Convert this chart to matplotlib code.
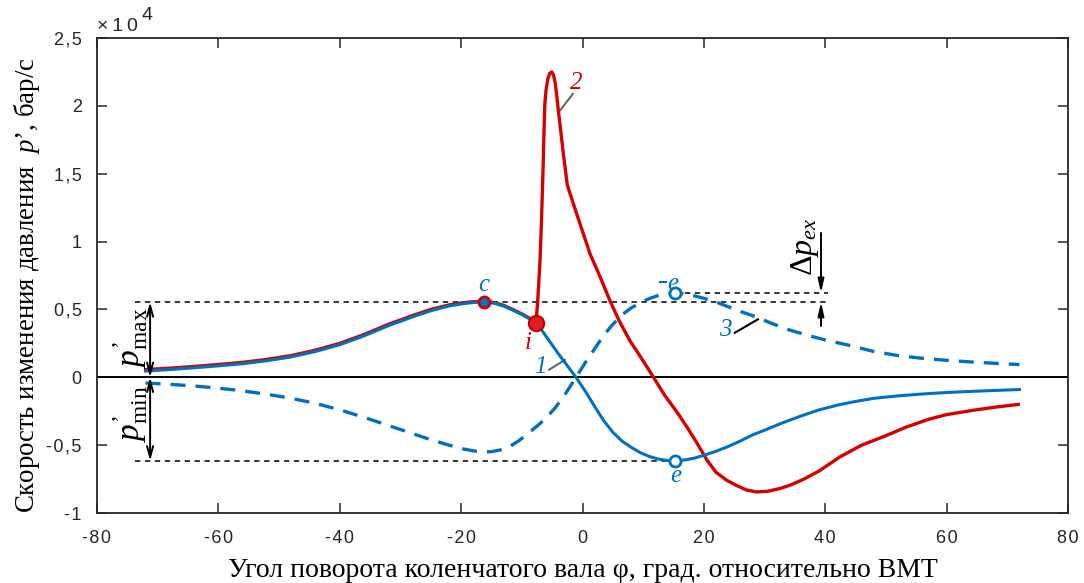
import numpy as np
import matplotlib
matplotlib.use('Agg')
import matplotlib.pyplot as plt
from matplotlib.ticker import FuncFormatter

# ---------------- data (crank angle, deg; dp/dphi in units of 1e4 bar/s) ----------------
# curve 1: motored / compression (solid blue)
x1 = [-72, -68, -64, -60, -56, -52, -48, -44, -40, -36, -32, -28, -25, -22, -20, -18,
      -16.3, -14.5, -13, -11.5, -10, -8.5, -7, -5.5, -4, -2.5, -1, 0.5, 2, 3.5, 5,
      6.5, 8, 9.5, 11, 12.5, 14, 15.3, 17, 18.5, 20, 22, 24, 26, 28, 30, 33, 36, 39,
      42, 45, 48, 52, 56, 60, 64, 68, 72]
y1 = [0.046, 0.057, 0.070, 0.084, 0.100, 0.122, 0.150, 0.190, 0.240, 0.305, 0.380,
      0.445, 0.490, 0.525, 0.540, 0.551, 0.555, 0.545, 0.525, 0.495, 0.462, 0.425,
      0.365, 0.270, 0.175, 0.085, -0.005, -0.105, -0.215, -0.320, -0.405, -0.470,
      -0.515, -0.555, -0.583, -0.603, -0.613, -0.616, -0.608, -0.595, -0.575, -0.545,
      -0.510, -0.470, -0.425, -0.390, -0.335, -0.285, -0.240, -0.205, -0.178, -0.155,
      -0.137, -0.123, -0.112, -0.104, -0.097, -0.090]

# curve 2: firing (red)
x2 = [-72, -68, -64, -60, -56, -52, -48, -44, -40, -36, -32, -28, -25, -22, -20, -18,
      -16.3, -14.5, -13, -11.5, -10, -8.5, -7.66, -7.4, -7.2, -7.0, -6.8, -6.6, -6.46,
      -6.35, -6.2, -6.0, -5.7, -5.4, -5.07, -4.8, -4.5, -4.25, -3.99, -3.6, -3.16,
      -2.8, -2.5, -1, 1.24, 3, 4.5, 6, 7.8, 9.5, 11.7, 13.5, 15.7, 17.2, 18.8, 20.5,
      22, 23.8, 25.5, 27, 28.7, 30.5, 32.5, 34.2, 36.5, 39, 42.4, 46, 50, 53.4, 57,
      60, 64.4, 68, 71.8]
y2 = [0.057, 0.067, 0.080, 0.094, 0.110, 0.132, 0.160, 0.200, 0.250, 0.315, 0.390,
      0.455, 0.500, 0.533, 0.548, 0.557, 0.560, 0.550, 0.530, 0.500, 0.467, 0.430,
      0.400, 0.550, 0.700, 0.860, 1.100, 1.380, 1.600, 1.800, 2.020, 2.120, 2.200,
      2.240, 2.250, 2.230, 2.170, 2.080, 1.970, 1.820, 1.650, 1.520, 1.415, 1.210,
      0.910, 0.730, 0.567, 0.420, 0.270, 0.155, 0.000, -0.130, -0.265, -0.366, -0.480,
      -0.610, -0.700, -0.760, -0.800, -0.830, -0.845, -0.840, -0.820, -0.795, -0.750,
      -0.690, -0.587, -0.500, -0.430, -0.366, -0.310, -0.275, -0.243, -0.220, -0.200]

# curve 3: dashed blue
x3 = [-72, -68, -64, -60, -56, -52, -48, -44, -40, -36, -32, -28, -25, -22, -20, -18,
      -16.5, -15, -13.5, -12, -10.5, -9, -7.5, -6, -4.5, -3, -1.07, 0.5, 2, 3.5, 5,
      6.5, 8, 9.5, 11, 12.5, 14, 15.3, 16.5, 18, 20, 22, 24, 26, 28.7, 31, 34, 37,
      40, 44, 48, 52, 56, 60, 64, 68, 72]
y3 = [-0.042, -0.052, -0.064, -0.080, -0.100, -0.125, -0.155, -0.192, -0.240, -0.295,
      -0.355, -0.415, -0.460, -0.500, -0.525, -0.542, -0.550, -0.548, -0.535, -0.510,
      -0.468, -0.415, -0.360, -0.300, -0.225, -0.135, 0.000, 0.110, 0.210, 0.310,
      0.390, 0.460, 0.510, 0.548, 0.580, 0.603, 0.617, 0.621, 0.617, 0.605, 0.582,
      0.555, 0.520, 0.485, 0.444, 0.400, 0.350, 0.310, 0.275, 0.235, 0.190, 0.160,
      0.140, 0.125, 0.113, 0.103, 0.094]

SCALE = 1e4
xticks = [-80, -60, -40, -20, 0, 20, 40, 60, 80]
yticks = [-1, -0.5, 0, 0.5, 1, 1.5, 2, 2.5]

BLUE = '#0072BD'
RED = '#D50000'
GRAY_LEADER = '#666666'
PR = '\u2019'

plt.rcParams['mathtext.fontset'] = 'custom'
plt.rcParams['mathtext.rm'] = 'Liberation Serif'
plt.rcParams['mathtext.it'] = 'Liberation Serif:italic'
plt.rcParams['mathtext.bf'] = 'Liberation Serif:bold'
SERIF = ['Liberation Serif', 'DejaVu Serif']
SANS = ['Liberation Sans', 'DejaVu Sans']

Y1 = np.array(y1) * SCALE
Y2 = np.array(y2) * SCALE
Y3 = np.array(y3) * SCALE

fig = plt.figure(figsize=(10.84, 5.83), dpi=100)
ax = fig.add_axes([97/1084, 1-513/583, (1068-97)/1084, (513-38)/583])

ax.set_xlim(-80, 80)
ax.set_ylim(-1 * SCALE, 2.5 * SCALE)
ax.set_xticks(xticks)
ax.set_yticks([v * SCALE for v in yticks])

def spaced(s):
    return '\u200a'.join(s)

ax.xaxis.set_major_formatter(FuncFormatter(lambda v, p: spaced('%d' % v)))
ax.yaxis.set_major_formatter(FuncFormatter(lambda v, p: spaced(('%g' % (v/SCALE)).replace('.', ','))))
ax.tick_params(direction='in', length=7, width=1.1, top=True, right=True,
               labelsize=13, colors='#262626')
ax.tick_params(axis='x', pad=12)
ax.tick_params(axis='y', pad=11)
for lab in ax.get_xticklabels() + ax.get_yticklabels():
    lab.set_family(SANS)
for sp in ax.spines.values():
    sp.set_linewidth(1.3)
    sp.set_color('#262626')

ax.text(0.0, 1.006, '\u00d7\u20091\u20090', transform=ax.transAxes, fontsize=14,
        family=SANS, ha='left', va='bottom', color='#262626')
ax.text(0.046, 1.030, '4', transform=ax.transAxes, fontsize=14, family=SANS,
        ha='left', va='bottom', color='#262626')

# zero line
ax.axhline(0, color='black', lw=1.4, zorder=2)

# curves
ax.plot(x3, Y3, color=BLUE, lw=2.4, ls=(0, (4.5, 3)), zorder=3)
ax.plot(x2, Y2, color=RED, lw=2.4, zorder=4)
ax.plot(x1, Y1, color=BLUE, lw=2.2, zorder=5)

# characteristic points
i_c = int(np.argmax(Y1)); xc, yc = x1[i_c], Y1[i_c]
i_e = int(np.argmin(Y1)); xe, ye = x1[i_e], Y1[i_e]
i_e3 = int(np.argmax(Y3)); xe3, ye3 = x3[i_e3], Y3[i_e3]
i_i = x2.index(-7.66); xi, yi = x2[i_i], Y2[i_i]

# reference dashed lines
ref_kw = dict(color='black', lw=1.1, ls=(0, (3.5, 3)), zorder=1)
ax.plot([-73.7, 40.4], [yc, yc], **ref_kw)
ax.plot([-73.7, xe], [ye, ye], **ref_kw)
ax.plot([xe3, 40.4], [ye3, ye3], **ref_kw)

# markers
ax.plot(xc, yc, 'o', ms=8, mfc=BLUE, mec=RED, mew=2, zorder=7)
ax.plot(xi, yi, 'o', ms=11, mfc='#E02020', mec='#C00000', mew=1.5, zorder=7)
ax.plot(xe, ye, 'o', ms=8, mfc='white', mec=BLUE, mew=2, zorder=7)
ax.plot(xe3, ye3, 'o', ms=8, mfc='white', mec=BLUE, mew=2, zorder=7)

# arrows p'max / p'min
arr = dict(arrowstyle='<->,head_length=0.8,head_width=0.22', color='black', lw=1.4,
           shrinkA=0, shrinkB=0)
ax.annotate('', xy=(-71.25, yc), xytext=(-71.25, 0), arrowprops=arr, zorder=6)
ax.annotate('', xy=(-71.25, 0), xytext=(-71.25, ye), arrowprops=arr, zorder=6)
ax.text(-74.4, 2950, "$p^{" + PR + r"}_{\mathrm{max}}$", rotation=90, fontsize=24,
        ha='center', va='center', zorder=8)
ax.text(-74.4, -2650, "$p^{" + PR + r"}_{\mathrm{min}}$", rotation=90, fontsize=24,
        ha='center', va='center', zorder=8)

# delta p_ex arrows
arr1 = dict(arrowstyle='-|>,head_length=0.8,head_width=0.18', color='black', lw=1.4,
            shrinkA=0, shrinkB=0)
ax.annotate('', xy=(39.3, ye3), xytext=(39.3, 10630), arrowprops=arr1)
ax.annotate('', xy=(39.3, yc), xytext=(39.3, 3780), arrowprops=arr1)
ax.text(36.6, 9600, r"$\Delta p_{ex}$", rotation=90, fontsize=23,
        ha='center', va='center')

# point labels
lab_kw = dict(fontsize=18, style='italic', family=SERIF, ha='center', va='center')
ax.text(xc, yc + 1250, 'c', color=BLUE, **lab_kw)
ax.text(xi - 1.3, yi - 1500, 'i', color=RED, **lab_kw)
ax.text(xe, ye - 1150, 'e', color=BLUE, **lab_kw)
ax.text(xe3 - 0.4, ye3 + 650, 'e', color=BLUE, **lab_kw)
ax.plot([xe3 - 2.5, xe3 - 1.5], [ye3 + 800, ye3 + 800], color=BLUE, lw=1.5)

# curve number labels with leaders
ax.text(-7.0, 780, '1', color=BLUE, **lab_kw)
ax.plot([-5.5, -2.9], [560, 1280], color=GRAY_LEADER, lw=1.5)
ax.text(-1.0, 21700, '2', color=RED, **lab_kw)
ax.plot([-3.7, -1.6], [19660, 20880], color=GRAY_LEADER, lw=1.5)
ax.text(23.6, 3500, '3', color=BLUE, **lab_kw)
ax.plot([25.1, 28.9], [3280, 4270], color='black', lw=1.5)

# axis labels
ax.set_xlabel('Угол поворота коленчатого вала φ, град. относительно ВМТ',
              family=SERIF, fontsize=20, labelpad=8)
ax.set_ylabel("Скорость изменения давления  $p" + PR + "$, бар/с", family=SERIF,
              fontsize=19.4)
ax.yaxis.set_label_coords(-55/971, 0.48)

fig.savefig('out.png', dpi=100)
